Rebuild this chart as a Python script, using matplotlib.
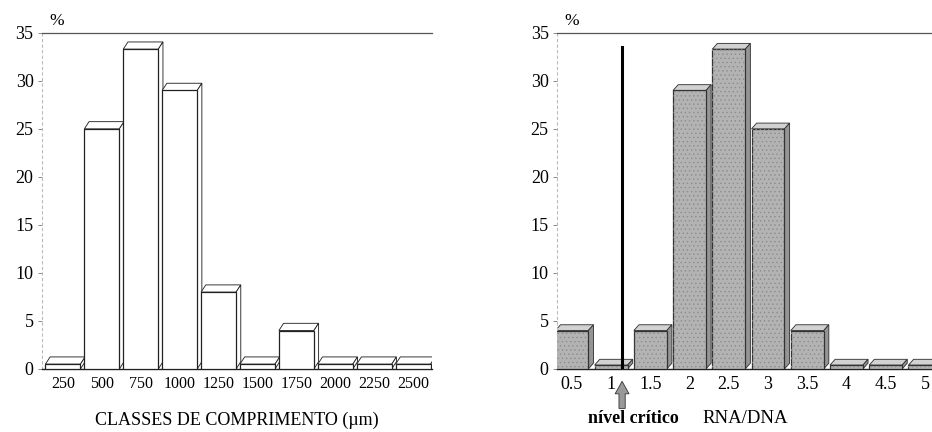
import matplotlib
matplotlib.use("Agg")
import matplotlib.pyplot as plt
from matplotlib.patches import Polygon

plt.rcParams["font.family"] = ["Liberation Serif", "DejaVu Serif"]
plt.rcParams["hatch.linewidth"] = 0.5

# left panel: length classes
length_classes = [250, 500, 750, 1000, 1250, 1500, 1750, 2000, 2250, 2500]
length_pct = [0.5, 25, 33.3, 29, 8, 0.5, 4, 0.5, 0.5, 0.5]

# right panel: RNA/DNA classes
ratio_classes = [0.5, 1, 1.5, 2, 2.5, 3, 3.5, 4, 4.5, 5]
ratio_pct = [4, 0.4, 4, 29, 33.3, 25, 4, 0.4, 0.4, 0.4]
critical_level = 1.14

yticks = [0, 5, 10, 15, 20, 25, 30, 35]


# draw bars with a fake 3D top and side
def bars_3d(ax, x, h, width, dx, dy, face, side, top, edge, lw=0.9, grain=None):
    ax.bar(x, h, width=width, color=face, edgecolor=edge, linewidth=lw, zorder=3)
    if grain is not None:
        # speckled texture like the printed figure
        ax.bar(x, h, width=width, facecolor="none", edgecolor=grain, hatch="....",
               linewidth=0, zorder=3.5)
    for xi, hi in zip(x, h):
        x0 = xi - width / 2
        x1 = xi + width / 2
        tp = Polygon([(x0, hi), (x0 + dx, hi + dy), (x1 + dx, hi + dy), (x1, hi)],
                     closed=True, facecolor=top, edgecolor=edge, linewidth=lw * 0.7, zorder=2)
        sd = Polygon([(x1, 0), (x1 + dx, dy), (x1 + dx, hi + dy), (x1, hi)],
                     closed=True, facecolor=side, edgecolor=edge, linewidth=lw * 0.7, zorder=2)
        ax.add_patch(tp)
        ax.add_patch(sd)


def style_axis(ax):
    ax.set_ylim(0, 35)
    ax.set_yticks(yticks)
    ax.spines["right"].set_visible(False)
    ax.spines["top"].set_color("#555555")
    ax.spines["top"].set_linewidth(0.9)
    ax.spines["left"].set_color("#bbbbbb")
    ax.spines["left"].set_linestyle((0, (2, 3)))
    ax.spines["left"].set_linewidth(0.8)
    ax.spines["bottom"].set_color("#222222")
    ax.spines["bottom"].set_linewidth(1.0)
    ax.tick_params(axis="y", direction="out", length=3, width=0.6, color="#777777",
                   labelsize=13, pad=3)
    ax.tick_params(axis="x", length=0, pad=5)
    ax.text(0.02, 1.012, "%", transform=ax.transAxes, fontsize=12.5, ha="left", va="bottom")


fig = plt.figure(figsize=(9.32, 4.32), dpi=100)

ax1 = fig.add_axes([0.045, 0.146, 0.4185, 0.778])
bars_3d(ax1, length_classes, length_pct, width=225, dx=30, dy=0.75,
        face="white", side="white", top="white", edge="#222222")
ax1.set_xlim(115, 2621)
ax1.set_xticks(length_classes)
ax1.set_xticklabels([str(v) for v in length_classes], fontsize=11.5)
style_axis(ax1)
ax1.set_xlabel("CLASSES DE COMPRIMENTO (µm)", fontsize=13, labelpad=14)

ax2 = fig.add_axes([0.5976, 0.146, 0.4024, 0.778])
bars_3d(ax2, ratio_classes, ratio_pct, width=0.42, dx=0.065, dy=0.6,
        face="#b3b3b3", side="#959595", top="#d2d2d2", edge="#333333", grain="#8c8c8c")
ax2.set_xlim(0.31, 5.09)
ax2.set_xticks(ratio_classes)
ax2.set_xticklabels([f"{v:g}" for v in ratio_classes], fontsize=13)
style_axis(ax2)

# critical level marker
ax2.plot([critical_level, critical_level], [0, 33.5], color="black", linewidth=2.2, zorder=5)
ax2.annotate("", xy=(critical_level, -1.0), xytext=(critical_level, -4.4),
             arrowprops=dict(arrowstyle="simple,head_width=1.0,head_length=0.9,tail_width=0.45",
                             facecolor="#999999", edgecolor="#333333", linewidth=0.6),
             annotation_clip=False)
ax2.text(1.28, -4.3, "nível crítico", fontsize=13, fontweight="bold",
         ha="center", va="top")
ax2.text(2.71, -4.3, "RNA/DNA", fontsize=13.5, ha="center", va="top")

fig.savefig("out.png", dpi=100)
